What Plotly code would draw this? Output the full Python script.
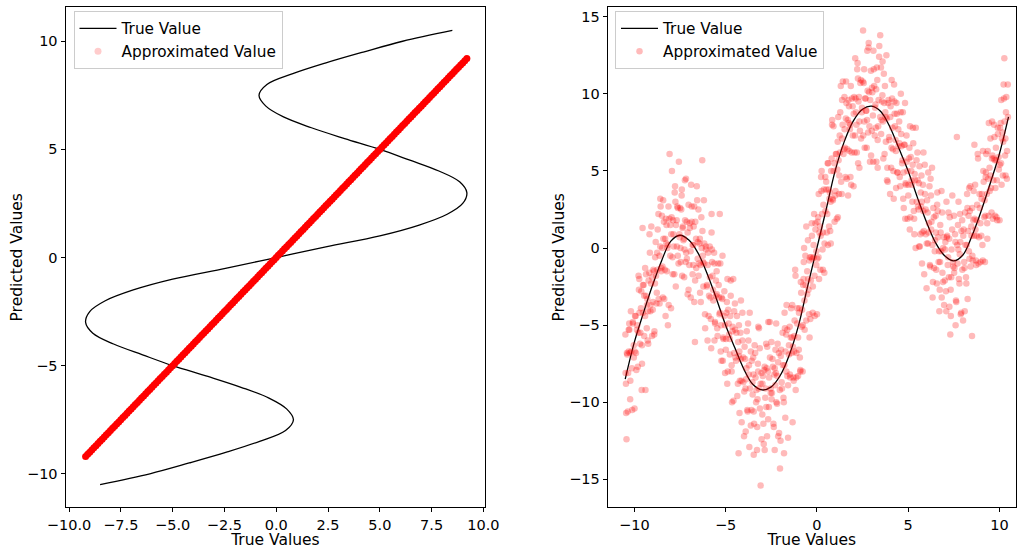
import plotly.graph_objects as go

# True curve: input values and true outputs
curve_t = [-10.5, -10, -9.5, -9, -8.5, -8, -7.5, -7, -6.5, -6, -5.5, -5, -4.5, -4, -3.5, -3,
           -2.5, -2, -1.5, -1, -0.5, 0, 0.5, 1, 1.5, 2, 2.5, 3, 3.5, 4, 4.5, 5, 5.5, 6, 6.5,
           7, 7.5, 8, 8.5, 9, 9.5, 10, 10.5]
curve_g = [-8.5, -6.1, -4.2, -2.4, -0.8, 0.45, 0.83, 0.5, -0.35, -1.7, -3.3, -5.0, -6.45, -7.85,
           -8.85, -9.2, -9.0, -8.25, -6.9, -5.0, -2.45, 0, 2.45, 5.0, 6.9, 8.25, 9.0, 9.2, 8.85,
           7.85, 6.45, 5.0, 3.3, 1.7, 0.35, -0.5, -0.83, -0.45, 0.8, 2.4, 4.2, 6.1, 8.5]

# Left panel approximated values (dense points along the diagonal)
left_approx = [-9.2, -9.1, -9.0, -8.9, -8.8, -8.7, -8.6, -8.5, -8.4, -8.3, -8.2, -8.1, -8.0, -7.9,
               -7.8, -7.7, -7.6, -7.5, -7.4, -7.3, -7.2, -7.1, -7.0, -6.9, -6.8, -6.7, -6.6, -6.5,
               -6.4, -6.3, -6.2, -6.1, -6.0, -5.9, -5.8, -5.7, -5.6, -5.5, -5.4, -5.3, -5.2, -5.1,
               -5.0, -4.9, -4.8, -4.7, -4.6, -4.5, -4.4, -4.3, -4.2, -4.1, -4.0, -3.9, -3.8, -3.7,
               -3.6, -3.5, -3.4, -3.3, -3.2, -3.1, -3.0, -2.9, -2.8, -2.7, -2.6, -2.5, -2.4, -2.3,
               -2.2, -2.1, -2.0, -1.9, -1.8, -1.7, -1.6, -1.5, -1.4, -1.3, -1.2, -1.1, -1.0, -0.9,
               -0.8, -0.7, -0.6, -0.5, -0.4, -0.3, -0.2, -0.1, 0.0, 0.1, 0.2, 0.3, 0.4, 0.5, 0.6,
               0.7, 0.8, 0.9, 1.0, 1.1, 1.2, 1.3, 1.4, 1.5, 1.6, 1.7, 1.8, 1.9, 2.0, 2.1, 2.2, 2.3,
               2.4, 2.5, 2.6, 2.7, 2.8, 2.9, 3.0, 3.1, 3.2, 3.3, 3.4, 3.5, 3.6, 3.7, 3.8, 3.9, 4.0,
               4.1, 4.2, 4.3, 4.4, 4.5, 4.6, 4.7, 4.8, 4.9, 5.0, 5.1, 5.2, 5.3, 5.4, 5.5, 5.6, 5.7,
               5.8, 5.9, 6.0, 6.1, 6.2, 6.3, 6.4, 6.5, 6.6, 6.7, 6.8, 6.9, 7.0, 7.1, 7.2, 7.3, 7.4,
               7.5, 7.6, 7.7, 7.8, 7.9, 8.0, 8.1, 8.2, 8.3, 8.4, 8.5, 8.6, 8.7, 8.8, 8.9, 9.0, 9.1,
               9.2]

# Right panel noisy approximated values, first batch
approx_x = [
    -10.48, -10.45, -10.43, -10.39, -10.34, -10.31, -10.28, -10.23, -10.19, -10.14, -10.08, -10.03,
    -9.98, -9.93, -9.89, -9.84, -9.78, -9.73, -9.69, -9.64, -9.58, -9.53, -9.6, -9.55,
    -9.46, -9.41, -9.36, -9.32, -9.29, -9.24, -9.18, -9.12, -9.07, -9.03, -9.39, -9.15,
    -8.98, -8.93, -8.87, -8.83, -8.79, -8.74, -8.68, -8.62, -8.58, -8.53, -8.9, -8.56,
    -8.47, -8.44, -8.38, -8.33, -8.29, -8.24, -8.19, -8.13, -8.07, -8.03, -8.42, -8.16,
    -7.98, -7.94, -7.88, -7.84, -7.79, -7.73, -7.68, -7.62, -7.56, -7.52, -7.9, -7.65,
    -7.47, -7.43, -7.38, -7.34, -7.28, -7.23, -7.19, -7.13, -7.08, -7.03, -7.4, -7.16,
    -6.97, -6.92, -6.86, -6.81, -6.77, -6.72, -6.66, -6.61, -6.56, -6.52, -6.68, -6.89,
    -6.48, -6.43, -6.38, -6.33, -6.28, -6.24, -6.19, -6.13, -6.08, -6.02, -6.4, -6.17,
    -5.98, -5.93, -5.87, -5.83, -5.79, -5.74, -5.69, -5.63, -5.58, -5.53, -5.77, -5.61,
    -5.48, -5.44, -5.38, -5.34, -5.29, -5.23, -5.18, -5.13, -5.07, -5.03, -5.32, -5.15,
    -4.98, -4.93, -4.88, -4.83, -4.77, -4.72, -4.67, -4.62, -4.57, -4.53, -4.9, -4.65,
    -4.48, -4.43, -4.38, -4.33, -4.28, -4.24, -4.19, -4.13, -4.08, -4.03, -4.29, -4.16,
    -3.98, -3.93, -3.88, -3.84, -3.79, -3.73, -3.68, -3.62, -3.57, -3.52, -3.9, -3.7,
    -3.48, -3.44, -3.38, -3.33, -3.28, -3.23, -3.18, -3.13, -3.08, -3.03, -3.46, -3.21,
    -2.98, -2.93, -2.88, -2.83, -2.78, -2.73, -2.68, -2.63, -2.57, -2.53, -2.86, -2.66,
    -2.48, -2.43, -2.38, -2.33, -2.28, -2.23, -2.18, -2.12, -2.07, -2.02, -2.31, -2.15,
    -1.98, -1.93, -1.88, -1.83, -1.78, -1.73, -1.68, -1.62, -1.58, -1.53, -1.8, -1.66,
    -1.48, -1.43, -1.38, -1.33, -1.29, -1.24, -1.19, -1.13, -1.08, -1.03, -1.35, -1.16,
    -0.98, -0.93, -0.88, -0.83, -0.78, -0.73, -0.68, -0.63, -0.58, -0.53, -0.9, -0.7,
    -0.48, -0.43, -0.38, -0.33, -0.28, -0.23, -0.18, -0.13, -0.08, -0.03, -0.4, -0.15,
    0.02, 0.07, 0.12, 0.17, 0.21, 0.26, 0.31, 0.36, 0.41, 0.46, 0.1, 0.33,
    0.52, 0.57, 0.62, 0.67, 0.71, 0.76, 0.81, 0.86, 0.91, 0.96, 0.6, 0.84,
    1.02, 1.07, 1.12, 1.17, 1.21, 1.26, 1.31, 1.36, 1.41, 1.46, 1.15, 1.38,
    1.52, 1.57, 1.62, 1.67, 1.71, 1.76, 1.81, 1.86, 1.91, 1.96, 1.6, 1.84,
    2.02, 2.07, 2.12, 2.17, 2.21, 2.26, 2.31, 2.36, 2.41, 2.46, 2.1, 2.33,
    2.53, 2.57, 2.62, 2.67, 2.71, 2.76, 2.81, 2.86, 2.91, 2.96, 2.6, 2.84,
    3.02, 3.07, 3.12, 3.17, 3.21, 3.26, 3.31, 3.36, 3.41, 3.47, 3.1, 3.33,
    3.52, 3.57, 3.62, 3.67, 3.71, 3.76, 3.81, 3.86, 3.91, 3.96, 3.6, 3.84,
    4.02, 4.07, 4.12, 4.17, 4.21, 4.26, 4.31, 4.36, 4.41, 4.46, 4.1, 4.34,
    4.52, 4.57, 4.62, 4.67, 4.71, 4.76, 4.81, 4.86, 4.91, 4.96, 4.6, 4.84,
    5.02, 5.07, 5.12, 5.17, 5.21, 5.26, 5.31, 5.36, 5.41, 5.46, 5.1, 5.34,
    5.52, 5.57, 5.62, 5.67, 5.71, 5.76, 5.81, 5.86, 5.91, 5.96, 5.6, 5.84,
    6.02, 6.07, 6.12, 6.17, 6.21, 6.26, 6.31, 6.36, 6.41, 6.46, 6.1, 6.34,
    6.52, 6.57, 6.62, 6.67, 6.71, 6.76, 6.81, 6.86, 6.91, 6.96, 6.6, 6.84,
    7.02, 7.07, 7.12, 7.17, 7.21, 7.26, 7.31, 7.36, 7.41, 7.46, 7.1, 7.34,
    7.52, 7.57, 7.62, 7.67, 7.71, 7.76, 7.81, 7.86, 7.91, 7.96, 7.6, 7.84,
    8.02, 8.07, 8.12, 8.17, 8.21, 8.26, 8.31, 8.36, 8.41, 8.46, 8.1, 8.34,
    8.52, 8.57, 8.62, 8.67, 8.71, 8.76, 8.81, 8.86, 8.91, 8.96, 8.5, 8.63,
    9.02, 9.07, 9.12, 9.17, 9.21, 9.26, 9.31, 9.36, 9.41, 9.46, 9.1, 9.34,
    9.52, 9.57, 9.62, 9.67, 9.71, 9.76, 9.81, 9.86, 9.91, 9.96, 9.6, 9.84,
    10.02, 10.07, 10.12, 10.17, 10.21, 10.27, 10.31, 10.36, 10.41, 10.46, 10.1, 10.34,
]
approx_y = [
    -8.1, -10.7, -12.4, -6.9, -8.1, -5.3, -4.9, -9.8, -4.1, -7.8, -4.8, -6.3,
    -6.7, -4.4, -7.9, -5.0, -5.5, -2.0, -6.2, -3.9, -7.5, -2.4, -9.2, 1.3,
    -3.1, -4.4, -1.7, -5.2, -3.3, -6.2, -1.6, -3.7, 1.4, -1.9, -9.2, -0.3,
    -3.5, -1.5, -2.3, 0.4, -3.6, -1.4, 2.2, -3.6, 0.1, -1.5, -5.4, 2.7,
    0.0, -3.2, 1.7, -1.4, -4.4, 1.5, 0.0, 2.7, 6.1, 1.5, 3.1, -5.0,
    0.9, 5.0, 1.8, 0.1, 3.6, -2.5, 1.8, -0.5, 5.6, 0.7, -1.7, 2.7,
    0.0, 2.5, -1.8, 1.4, 0.6, 4.4, -0.9, 1.7, -3.0, 2.8, 3.8, -0.3,
    1.6, -0.2, 2.7, -1.7, 0.2, -3.5, 1.7, -1.3, 3.1, 0.4, -6.1, 4.1,
    -1.8, 0.3, -1.1, 2.0, 5.7, -0.9, 3.1, -4.3, -0.1, -2.4, -2.9, 0.3,
    -1.1, -4.4, 0.1, -3.2, -6.5, -0.9, -2.7, -0.3, -4.8, -2.1, 2.2, -6.0,
    -3.0, -5.7, -2.4, -4.3, -1.0, -7.3, -3.3, -5.8, -2.8, -5.0, 2.2, -7.3,
    -5.9, -3.5, -8.0, -4.9, -5.9, -2.1, -7.6, -5.1, -9.9, -4.1, -2.0, -10.0,
    -5.3, -7.3, -4.4, -8.8, -7.0, -10.7, -5.5, -8.6, -4.2, -7.1, -13.3, -3.4,
    -9.3, -7.2, -8.5, -5.4, -10.6, -8.2, -4.2, -11.5, -7.3, -9.5, -11.9, -12.9,
    -8.2, -11.4, -6.8, -10.0, -13.1, -7.5, -9.1, -6.5, -15.4, -8.1, -13.4, -5.1,
    -8.8, -11.4, -7.9, -9.7, -6.2, -12.2, -8.0, -10.3, -7.1, -9.1, -13.1, -4.8,
    -9.8, -7.2, -11.4, -8.2, -8.9, -4.9, -10.1, -7.4, -12.0, -14.3, -13.1, -6.2,
    -7.0, -8.7, -5.5, -9.7, -7.6, -11.0, -5.6, -8.3, -12.3, -6.3, -13.3, -3.7,
    -8.2, -5.8, -6.8, -11.3, -8.4, -5.7, -1.4, -8.4, -3.9, -5.8, -3.7, -9.2,
    -4.2, -7.1, -2.2, -5.1, -8.0, -2.0, -3.4, -0.5, -4.7, -1.5, -7.9, 0.0,
    -2.0, -4.3, -0.6, -2.1, 1.6, -4.2, 0.2, -1.8, 1.6, -0.2, -5.8, 2.2,
    -0.7, 2.0, -2.0, 1.4, 0.8, 5.0, -0.1, 2.8, -1.6, 4.6, 3.5, -1.4,
    3.8, 2.2, 5.5, 1.4, 3.6, 0.3, 5.8, 3.2, 7.9, 5.5, 0.2, 8.3,
    3.7, 6.1, 5.1, 8.5, 3.5, 6.2, 10.5, 3.5, 8.0, 6.1, 2.0, 9.6,
    7.7, 4.6, 9.4, 6.4, 3.4, 9.2, 7.7, 10.5, 6.2, 9.2, 10.8, 4.6,
    8.7, 6.2, 9.7, 8.0, 11.6, 5.5, 9.8, 7.6, 10.9, 8.8, 12.3, 5.2,
    14.1, 10.7, 6.5, 9.7, 8.9, 12.8, 7.5, 10.1, 5.6, 11.5, 8.2, 13.3,
    10.4, 8.6, 11.6, 7.3, 9.3, 5.6, 10.9, 7.9, 12.4, 13.8, 12.8, 5.2,
    7.4, 9.5, 8.2, 11.3, 6.1, 8.5, 12.5, 5.2, 9.4, 7.2, 12.1, 4.4,
    8.5, 5.2, 9.7, 6.4, 3.2, 8.7, 7.0, 9.4, 4.9, 7.7, 10.9, 3.9,
    6.8, 4.0, 7.4, 5.5, 8.8, 2.6, 6.7, 4.2, 7.3, 5.0, 10.0, 1.9,
    4.1, 6.5, 2.0, 5.0, 4.1, 7.8, 2.4, 4.8, 0.0, 5.7, 7.9, 0.9,
    4.4, 2.5, 5.3, 0.9, 2.7, -1.0, 4.1, 1.1, 5.4, 2.5, 0.1, 6.2,
    0.3, 2.3, 1.0, 4.0, -1.2, 1.2, 5.2, -2.2, 2.0, -0.2, 4.9, -3.2,
    1.0, -2.3, 2.4, -0.9, -4.1, 1.5, -0.2, 2.3, -2.2, 0.7, 3.6, -3.2,
    -0.1, -2.8, 0.7, -1.1, 2.3, -3.8, -5.6, -1.9, 1.2, -0.9, 3.0, -4.4,
    -1.6, 0.9, -3.4, 7.2, -1.0, 3.0, -2.3, 0.4, -4.2, 1.8, -5.0, 2.2,
    0.8, -0.9, 2.3, -1.9, 0.2, -3.3, 2.1, -0.7, 4.0, 1.4, -4.1, 3.9,
    -0.5, 1.8, 0.8, 4.1, -0.8, 1.8, 6.1, -1.0, 3.5, 1.6, -5.7, 6.7,
    3.2, 0.2, 5.0, 2.0, -0.9, 4.9, 3.5, 6.3, 2.1, 5.2, 6.3, 0.6,
    4.7, 2.3, 6.0, 4.4, 8.0, 2.1, 6.5, 4.4, 7.8, 5.9, 8.2, 2.0,
    5.4, 8.1, 4.1, 7.5, 6.9, 12.3, 6.0, 8.8, 4.5, 10.6, 9.6, 4.7,
]

# Right panel, second batch of estimated points
approx_x2 = [
    -10.46, -10.41, -10.36, -10.31, -10.27, -10.22, -10.17, -10.12, -10.08, -10.03, -10.49, -10.25,
    -9.96, -9.91, -9.86, -9.81, -9.77, -9.72, -9.67, -9.62, -9.58, -9.53, -9.99, -9.75,
    -9.46, -9.41, -9.36, -9.31, -9.27, -9.22, -9.17, -9.12, -9.08, -9.03, -9.49, -9.25,
    -8.96, -8.91, -8.86, -8.81, -8.77, -8.72, -8.67, -8.62, -8.58, -8.53, -8.99, -8.75,
    -8.46, -8.41, -8.36, -8.31, -8.27, -8.22, -8.17, -8.12, -8.08, -8.03, -8.49, -8.25,
    -7.96, -7.91, -7.86, -7.81, -7.77, -7.72, -7.67, -7.62, -7.58, -7.53, -7.99, -7.75,
    -7.46, -7.41, -7.36, -7.31, -7.27, -7.22, -7.17, -7.12, -7.08, -7.03, -7.49, -7.25,
    -6.96, -6.91, -6.86, -6.81, -6.77, -6.72, -6.67, -6.62, -6.58, -6.53, -6.99, -6.75,
    -6.46, -6.41, -6.36, -6.31, -6.27, -6.22, -6.17, -6.12, -6.08, -6.03, -6.49, -6.25,
    -5.96, -5.91, -5.86, -5.81, -5.77, -5.72, -5.67, -5.62, -5.58, -5.53, -5.99, -5.75,
    -5.46, -5.41, -5.36, -5.31, -5.27, -5.22, -5.17, -5.12, -5.08, -5.03, -5.49, -5.25,
    -4.96, -4.91, -4.86, -4.81, -4.77, -4.72, -4.67, -4.62, -4.58, -4.53, -4.99, -4.75,
    -4.46, -4.41, -4.36, -4.31, -4.27, -4.22, -4.17, -4.12, -4.08, -4.03, -4.49, -4.25,
    -3.96, -3.91, -3.86, -3.81, -3.77, -3.72, -3.67, -3.62, -3.58, -3.53, -3.99, -3.75,
    -3.46, -3.41, -3.36, -3.31, -3.27, -3.22, -3.17, -3.12, -3.08, -3.03, -3.49, -3.25,
    -2.96, -2.91, -2.86, -2.81, -2.77, -2.72, -2.67, -2.62, -2.58, -2.53, -2.99, -2.75,
    -2.46, -2.41, -2.36, -2.31, -2.27, -2.22, -2.17, -2.12, -2.08, -2.03, -2.49, -2.25,
    -1.96, -1.91, -1.86, -1.81, -1.77, -1.72, -1.67, -1.62, -1.58, -1.53, -1.99, -1.75,
    -1.46, -1.41, -1.36, -1.31, -1.27, -1.22, -1.17, -1.12, -1.08, -1.03, -1.49, -1.25,
    -0.96, -0.91, -0.86, -0.81, -0.77, -0.72, -0.67, -0.62, -0.58, -0.53, -0.99, -0.75,
    -0.46, -0.41, -0.36, -0.31, -0.27, -0.22, -0.17, -0.12, -0.08, -0.03, -0.49, -0.25,
    0.04, 0.09, 0.14, 0.19, 0.23, 0.28, 0.33, 0.38, 0.42, 0.47, 0.01, 0.25,
    0.54, 0.59, 0.64, 0.69, 0.73, 0.78, 0.83, 0.88, 0.92, 0.97, 0.51, 0.75,
    1.04, 1.09, 1.14, 1.19, 1.23, 1.28, 1.33, 1.38, 1.42, 1.47, 1.01, 1.25,
    1.54, 1.59, 1.64, 1.69, 1.73, 1.78, 1.83, 1.88, 1.92, 1.97, 1.51, 1.75,
    2.04, 2.09, 2.14, 2.19, 2.23, 2.28, 2.33, 2.38, 2.42, 2.47, 2.01, 2.25,
    2.54, 2.59, 2.64, 2.69, 2.73, 2.78, 2.83, 2.88, 2.92, 2.97, 2.51, 2.75,
    3.04, 3.09, 3.14, 3.19, 3.23, 3.28, 3.33, 3.38, 3.42, 3.47, 3.01, 3.25,
    3.54, 3.59, 3.64, 3.69, 3.73, 3.78, 3.83, 3.88, 3.92, 3.97, 3.51, 3.75,
    4.04, 4.09, 4.14, 4.19, 4.23, 4.28, 4.33, 4.38, 4.42, 4.47, 4.01, 4.25,
    4.54, 4.59, 4.64, 4.69, 4.73, 4.78, 4.83, 4.88, 4.92, 4.97, 4.51, 4.75,
    5.04, 5.09, 5.14, 5.19, 5.23, 5.28, 5.33, 5.38, 5.42, 5.47, 5.01, 5.25,
    5.54, 5.59, 5.64, 5.69, 5.73, 5.78, 5.83, 5.88, 5.92, 5.97, 5.51, 5.75,
    6.04, 6.09, 6.14, 6.19, 6.23, 6.28, 6.33, 6.38, 6.42, 6.47, 6.01, 6.25,
    6.54, 6.59, 6.64, 6.69, 6.73, 6.78, 6.83, 6.88, 6.92, 6.97, 6.51, 6.75,
    7.04, 7.09, 7.14, 7.19, 7.23, 7.28, 7.33, 7.38, 7.42, 7.47, 7.01, 7.25,
    7.54, 7.59, 7.64, 7.69, 7.73, 7.78, 7.83, 7.88, 7.92, 7.97, 7.51, 7.75,
    8.04, 8.09, 8.14, 8.19, 8.23, 8.28, 8.33, 8.38, 8.42, 8.47, 8.01, 8.25,
    8.54, 8.59, 8.64, 8.69, 8.73, 8.78, 8.83, 8.88, 8.92, 8.97, 8.51, 8.75,
    9.04, 9.09, 9.14, 9.19, 9.23, 9.28, 9.33, 9.38, 9.42, 9.47, 9.01, 9.25,
    9.54, 9.59, 9.64, 9.69, 9.73, 9.78, 9.83, 9.88, 9.92, 9.97, 9.51, 9.75,
    10.04, 10.09, 10.14, 10.19, 10.23, 10.28, 10.33, 10.38, 10.42, 10.47, 10.01, 10.25,
]
approx_y2 = [
    -8.8, -6.8, -10.6, -6.7, -5.3, -8.6, -6.7, -10.5, -4.9, -7.1, -5.6, -6.8,
    -4.4, -6.8, -5.3, -7.7, -1.8, -4.2, -5.5, -2.8, -6.3, -4.2, -10.4, -2.7,
    -5.7, -1.3, -3.1, -3.7, -6.0, -2.1, 0.9, -4.1, -2.3, -5.7, -2.4, -4.1,
    -1.4, -5.6, -0.6, -1.8, -2.9, 1.2, -3.3, -0.5, 3.2, -1.3, -4.0, -0.3,
    -1.2, 0.6, -3.3, 0.6, 1.9, -1.5, 0.2, -3.7, 1.9, -0.5, 2.1, 0.3,
    2.0, -0.6, 0.9, -1.7, 4.0, 1.5, 0.1, 2.6, -1.0, 0.9, -3.9, 3.0,
    -0.9, 3.4, 1.3, 0.5, -1.9, 1.8, 4.5, -0.7, 1.0, -2.7, 2.6, -0.1,
    1.3, -3.2, 1.7, 0.2, -1.1, 2.7, -2.1, 0.6, 4.0, -0.7, -1.1, 1.4,
    -1.0, 0.6, -3.5, 0.0, 1.1, -2.5, -1.0, -5.2, 0.1, -2.5, 2.5, -0.5,
    -0.3, -3.1, -1.9, -4.6, 1.0, -1.8, -3.4, -1.0, -4.9, -3.1, -6.0, -0.1,
    -5.2, -1.0, -3.2, -4.2, -6.7, -3.2, -0.5, -5.9, -4.4, -8.1, -1.5, -5.0,
    -4.2, -8.8, -4.0, -5.6, -6.9, -3.1, -8.0, -5.4, -2.0, -6.8, -6.6, -4.4,
    -7.1, -5.5, -9.6, -6.1, -5.0, -8.6, -7.2, -11.3, -6.0, -8.7, -3.6, -6.7,
    -6.4, -9.1, -7.8, -10.5, -4.9, -7.6, -9.1, -6.7, -10.5, -8.7, -12.2, -6.0,
    -10.6, -6.3, -8.4, -9.2, -11.6, -8.0, -5.2, -10.4, -8.8, -12.4, -7.1, -9.8,
    -8.3, -12.7, -7.7, -9.1, -10.3, -6.4, -11.1, -8.4, -4.8, -9.4, -10.8, -7.8,
    -9.4, -7.7, -11.6, -7.8, -6.6, -10.0, -8.3, -12.2, -6.8, -9.2, -6.1, -8.1,
    -6.6, -9.1, -7.6, -10.0, -4.2, -6.7, -8.0, -5.3, -8.9, -6.9, -12.5, -5.2,
    -8.4, -3.9, -5.8, -6.4, -8.6, -4.7, -1.8, -6.8, -4.9, -8.3, -5.1, -6.7,
    -3.9, -8.0, -2.9, -4.0, -5.0, -0.9, -5.3, -2.4, 1.4, -3.0, -6.6, -2.4,
    -2.7, -0.8, -4.6, -0.6, 0.8, -2.5, -0.6, -4.4, 1.2, -1.1, 0.5, -0.7,
    1.7, -0.6, 1.0, -1.4, 4.6, 2.2, 1.0, 3.8, 0.3, 2.4, -4.3, 3.7,
    1.0, 5.5, 3.8, 3.2, 1.1, 5.0, 8.0, 3.1, 5.0, 1.7, 4.3, 3.0,
    6.1, 1.9, 6.9, 5.7, 4.7, 8.8, 4.3, 7.1, 10.8, 6.4, 3.4, 7.3,
    6.5, 8.4, 4.5, 8.3, 9.6, 6.3, 8.0, 4.1, 9.7, 7.3, 9.8, 8.1,
    9.8, 7.3, 8.8, 6.2, 12.0, 9.5, 8.2, 10.7, 7.1, 9.1, 4.0, 11.0,
    7.3, 11.6, 9.7, 8.9, 6.5, 10.2, 13.0, 7.9, 9.6, 6.0, 10.8, 8.3,
    10.1, 5.6, 10.5, 9.1, 7.8, 11.7, 7.0, 9.6, 13.1, 8.5, 7.6, 10.3,
    8.3, 9.9, 5.8, 9.4, 10.5, 6.9, 8.4, 4.3, 9.6, 7.0, 11.7, 8.8,
    9.2, 6.5, 7.8, 5.0, 10.6, 7.9, 6.3, 8.7, 4.9, 6.6, 3.5, 9.5,
    4.6, 8.8, 6.6, 5.7, 3.2, 6.7, 9.4, 4.1, 5.6, 1.9, 8.2, 4.9,
    5.8, 1.2, 5.9, 4.4, 3.0, 6.8, 1.9, 4.4, 7.8, 3.0, 3.4, 5.4,
    2.7, 4.2, 0.1, 3.6, 4.7, 1.0, 2.4, -1.7, 3.5, 0.9, 6.2, 3.0,
    3.1, 0.3, 1.6, -1.1, 4.5, 1.7, 0.2, 2.6, -1.3, 0.5, -2.6, 3.4,
    -1.4, 2.8, 0.7, -0.2, -2.7, 1.0, 3.7, -1.6, 0.0, -3.7, 2.1, -0.9,
    0.4, -4.1, 0.8, -0.6, -1.9, 2.0, -2.7, -0.1, 3.4, -1.2, -2.1, 0.6,
    -1.3, 0.4, -3.5, 0.2, 1.5, -2.0, -0.4, -4.3, 1.1, -1.4, 2.1, -0.1,
    1.2, -1.3, 0.2, -2.3, 3.5, 1.1, -0.2, 2.4, -1.2, 0.8, -4.7, 2.6,
    -0.8, 3.7, 1.9, 1.2, -1.1, 2.8, 5.8, 0.7, 2.6, -0.9, 2.6, 0.8,
    3.5, -0.8, 4.3, 3.1, 2.1, 6.1, 1.6, 4.5, 8.1, 3.7, 0.8, 4.6,
    3.9, 5.8, 1.9, 5.8, 7.2, 3.9, 5.7, 1.8, 7.4, 5.1, 7.1, 5.7,
    7.8, 5.5, 7.1, 4.7, 10.6, 8.2, 7.1, 9.8, 6.3, 8.5, 1.8, 9.7,
]
assert len(approx_x) == len(approx_y)
assert len(approx_x2) == len(approx_y2)

left_xticks = [-10.0, -7.5, -5.0, -2.5, 0.0, 2.5, 5.0, 7.5, 10.0]
left_yticks = [-10, -5, 0, 5, 10]
right_xticks = [-10, -5, 0, 5, 10]
right_yticks = [-15, -10, -5, 0, 5, 10, 15]

FONT = "DejaVu Sans"
W, H = 1018, 549

fig = go.Figure()

# Left panel
fig.add_trace(go.Scatter(x=curve_g, y=curve_t, mode="lines", name="True Value",
                         line=dict(color="black", width=1.3, shape="spline"),
                         xaxis="x", yaxis="y", legend="legend"))
fig.add_trace(go.Scatter(x=left_approx, y=left_approx, mode="markers", showlegend=False,
                         marker=dict(color="#ff0000", size=7, line=dict(width=0)),
                         xaxis="x", yaxis="y"))
fig.add_trace(go.Scatter(x=[None], y=[None], mode="markers", name="Approximated Value",
                         marker=dict(color="#ff0000", size=7, opacity=0.2, line=dict(width=0)),
                         xaxis="x", yaxis="y", legend="legend"))

# Right panel
fig.add_trace(go.Scatter(x=curve_t, y=curve_g, mode="lines", name="True Value",
                         line=dict(color="black", width=1.3, shape="spline"),
                         xaxis="x2", yaxis="y2", legend="legend2"))
fig.add_trace(go.Scatter(x=approx_x + approx_x2, y=approx_y + approx_y2, mode="markers",
                         name="Approximated Value",
                         marker=dict(color="#ff0000", size=6.5, opacity=0.27, line=dict(width=0)),
                         xaxis="x2", yaxis="y2", legend="legend2"))

axis_common = dict(showline=True, mirror=True, linecolor="black", linewidth=1,
                   ticks="outside", ticklen=4, tickwidth=1, tickcolor="black",
                   showgrid=False, zeroline=False,
                   tickfont=dict(family=FONT, size=14.5, color="black"),
                   automargin=False)

ytop = 1 - 7.3 / H
ybot = 1 - 507.3 / H
title_font = dict(family=FONT, size=15.5, color="black")
legend_common = dict(xanchor="left", yanchor="top",
                     bgcolor="rgba(255,255,255,0.8)", bordercolor="#cccccc", borderwidth=1,
                     font=dict(family=FONT, size=15.3, color="black"), itemwidth=37,
                     tracegroupgap=0)

fig.update_layout(
    width=W, height=H,
    margin=dict(l=0, r=0, t=0, b=0),
    paper_bgcolor="white", plot_bgcolor="white",
    font=dict(family=FONT, size=14, color="black"),
    xaxis=dict(domain=[65.5 / W, 485.3 / W], range=[-10.17, 10.09],
               tickvals=left_xticks, tickformat=".1f",
               title=dict(text="True Values", font=title_font, standoff=0),
               anchor="y", **axis_common),
    yaxis=dict(domain=[ybot, ytop], range=[-11.55, 11.57], tickvals=left_yticks,
               title=dict(text="Predicted Values", font=title_font, standoff=0),
               anchor="x", **axis_common),
    xaxis2=dict(domain=[607.7 / W, 1016 / W], range=[-11.46, 10.91], tickvals=right_xticks,
                title=dict(text="True Values", font=title_font, standoff=0),
                anchor="y2", **axis_common),
    yaxis2=dict(domain=[ybot, ytop], range=[-16.81, 15.61], tickvals=right_yticks,
                title=dict(text="Predicted Values", font=title_font, standoff=0),
                anchor="x2", **axis_common),
    legend=dict(x=73.5 / W, y=1 - 11 / H, **legend_common),
    legend2=dict(x=615 / W, y=1 - 11 / H, **legend_common),
)

fig.write_html("out.html")
